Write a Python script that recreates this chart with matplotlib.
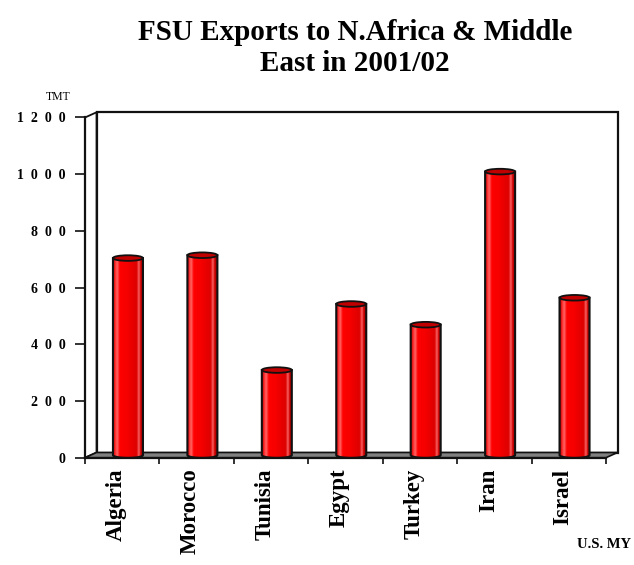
import numpy as np
import matplotlib
matplotlib.use("Agg")
import matplotlib.pyplot as plt
from matplotlib.patches import Polygon, Ellipse, PathPatch
from matplotlib.path import Path
from matplotlib.colors import LinearSegmentedColormap
import matplotlib.transforms as mtransforms

# FSU exports, thousand metric tons (TMT)
countries = ["Algeria", "Morocco", "Tunisia", "Egypt", "Turkey", "Iran", "Israel"]
exports_tmt = [695, 705, 300, 533, 460, 1000, 555]
y_ticks = [0, 200, 400, 600, 800, 1000, 1200]
y_tick_labels = ["0", "2  0  0", "4  0  0", "6  0  0", "8  0  0",
                 "1  0  0  0", "1  2  0  0"]

SERIF = "Liberation Serif"
INK = "#111111"

W, H = 634, 565
fig = plt.figure(figsize=(W / 100, H / 100), dpi=100)
fig.patch.set_facecolor("white")

# front plane of the 3-D box, in pixels
x_left, x_right = 85, 606
y_bottom, y_top = 457.7, 117.5
ax = fig.add_axes([x_left / W, 1 - y_bottom / H,
                   (x_right - x_left) / W, (y_bottom - y_top) / H])
n = len(countries)
ymax = y_ticks[-1]
ax.set_xlim(-0.5, n - 0.5)
ax.set_ylim(0, ymax)
ax.patch.set_visible(False)

px_x = (x_right - x_left) / n          # pixels per category
px_y = (y_bottom - y_top) / ymax       # pixels per TMT
depth_x = 11.5 / px_x
depth_y = 5.2 / px_y

# walls and floor
x0, x1 = -0.5, n - 0.5
back = Polygon([(x0 + depth_x, depth_y), (x1 + depth_x, depth_y),
                (x1 + depth_x, ymax + depth_y), (x0 + depth_x, ymax + depth_y)],
               closed=True, fc="white", ec=INK, lw=1.6, clip_on=False, zorder=0.5)
side = Polygon([(x0, 0), (x0 + depth_x, depth_y),
                (x0 + depth_x, ymax + depth_y), (x0, ymax)],
               closed=True, fc="white", ec=INK, lw=1.3, clip_on=False, zorder=0.6)
floor = Polygon([(x0, 0), (x1, 0), (x1 + depth_x, depth_y), (x0 + depth_x, depth_y)],
                closed=True, fc="#808080", ec=INK, lw=1.2, clip_on=False, zorder=0.7)
for p in (back, side, floor):
    ax.add_patch(p)

# cylinder shading across the width
stops = [(0.0, "#a00000"), (0.06, "#ff2020"), (0.14, "#ff6a6a"), (0.22, "#ff0000"),
         (0.5, "#f40000"), (0.8, "#dc0000"), (0.87, "#ff7070"), (0.92, "#d20000"),
         (1.0, "#a00000")]
cmap = LinearSegmentedColormap.from_list("cyl", stops)
grad = np.linspace(0, 1, 128).reshape(1, -1)

half_w = 15 / px_x
cap_h = 2.8 / px_y
base = depth_y / 2
theta = np.linspace(np.pi, 2 * np.pi, 40)

for i, v in enumerate(exports_tmt):
    cx = i + depth_x / 2
    top = base + v
    verts = [(cx - half_w, top)]
    verts += list(zip(cx + half_w * np.cos(theta), base + cap_h * np.sin(theta)))
    verts += [(cx + half_w, top), (cx - half_w, top)]
    codes = [Path.MOVETO] + [Path.LINETO] * (len(verts) - 2) + [Path.CLOSEPOLY]
    path = Path(verts, codes)

    clip = PathPatch(path, fc="none", ec="none", transform=ax.transData)
    ax.add_patch(clip)
    im = ax.imshow(grad, cmap=cmap, extent=[cx - half_w, cx + half_w, base - cap_h, top],
                   aspect="auto", interpolation="bicubic", zorder=2)
    im.set_clip_path(clip)
    ax.add_patch(PathPatch(path, fc="none", ec=INK, lw=1.5, zorder=3, clip_on=False))
    ax.add_patch(Ellipse((cx, top), 2 * half_w, 2 * cap_h, fc="#c00000", ec=INK,
                         lw=1.3, zorder=4, clip_on=False))

ax.set_xlim(-0.5, n - 0.5)
ax.set_ylim(0, ymax)

# axes
for s in ("top", "right"):
    ax.spines[s].set_visible(False)
for s in ("left", "bottom"):
    ax.spines[s].set_color(INK)
    ax.spines[s].set_linewidth(1.6)

ax.set_yticks(y_ticks)
ax.set_yticklabels(y_tick_labels, family=SERIF, fontweight="bold", fontsize=10)
ax.tick_params(axis="y", direction="out", length=7.2, width=1.2, pad=7, color=INK)
ax.set_xticks(np.arange(-0.5, n, 1))
ax.set_xticklabels([])
ax.tick_params(axis="x", direction="out", length=4.3, width=1.2, color=INK)

trans = ax.get_xaxis_transform() + mtransforms.ScaledTranslation(-6 / 100, -11 / 100,
                                                                   fig.dpi_scale_trans)
for i, name in enumerate(countries):
    ax.text(i, 0, name, rotation=90, ha="center", va="top", transform=trans,
            family=SERIF, fontweight="bold", fontsize=16.5, clip_on=False)

fig.text(355 / W, 1 - 19 / H, "FSU Exports to N.Africa & Middle\nEast in 2001/02",
         ha="center", va="top", fontsize=21, fontweight="bold", family=SERIF,
         linespacing=1.2)
fig.text(58 / W, 1 - 97 / H, "TMT", ha="center", va="center", fontsize=8.5, family=SERIF)
fig.text(631 / W, 1 - 545 / H, "U.S. MY", ha="right", va="center", fontsize=10.5,
         fontweight="bold", family=SERIF)

fig.savefig("out.png", dpi=100)
